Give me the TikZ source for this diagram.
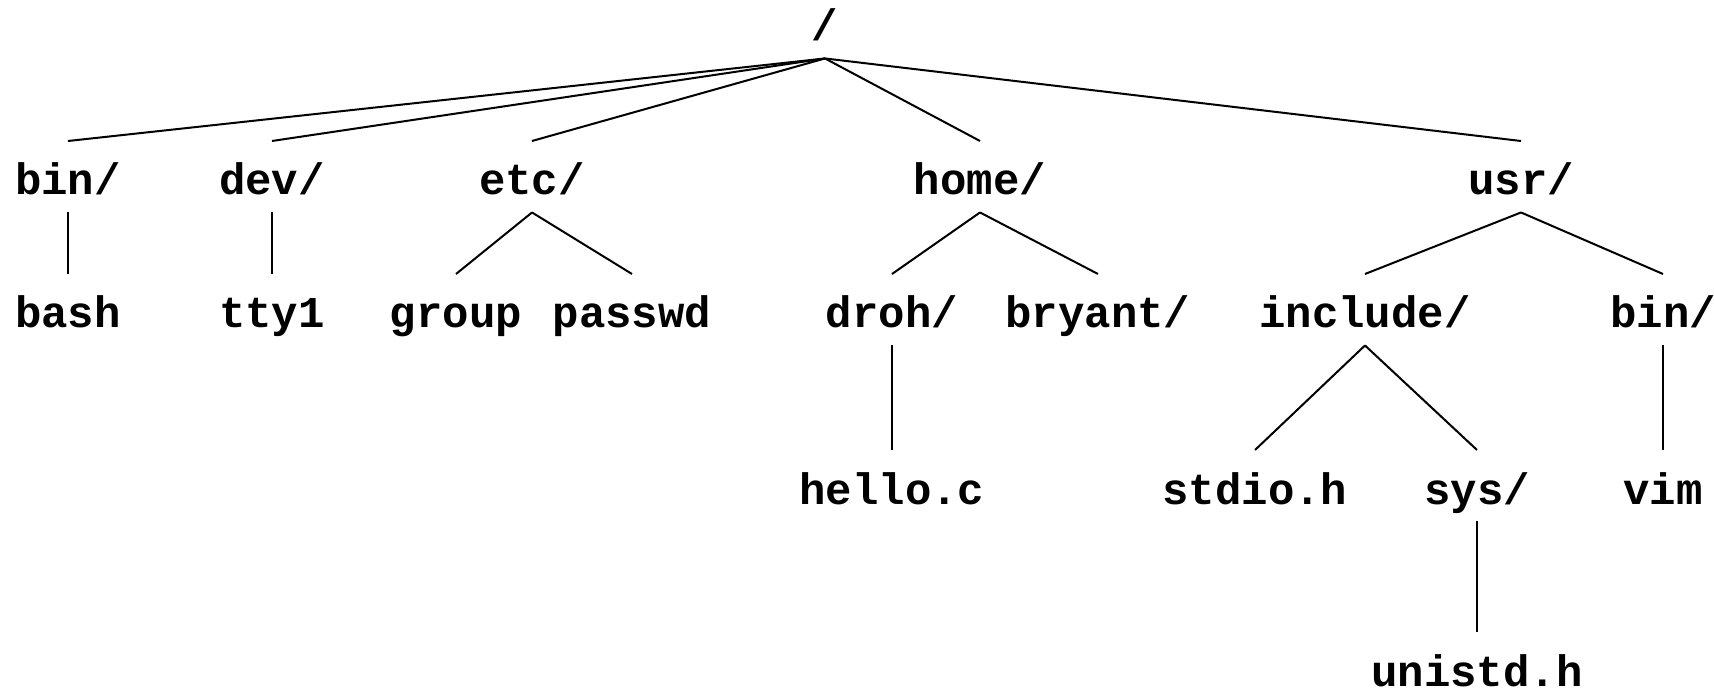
\documentclass[tikz,border=0pt]{standalone}
\usepackage{fontspec}
\setmonofont{Liberation Mono}

\tikzset{every picture/.style={line width=1.5pt}}
\tikzset{fname/.style={anchor=base, inner sep=0pt, outer sep=0pt, text height=40.5pt, text depth=13.1pt, font=\fontsize{33}{40}\selectfont\ttfamily\bfseries}}

\begin{document}
\begin{tikzpicture}[x=0.75pt,y=0.75pt,yscale=-1,xscale=1]
\useasboundingbox (0,0) rectangle (1714,691); %set diagram left start at 0, and has height of 691

% Text Node
\node [fname] (root) at (825,41) {/};
% Text Node
\node [fname] (bin) at (68,195) {bin/};
% Text Node
\node [fname] (dev) at (272,195) {dev/};
% Text Node
\node [fname] (etc) at (532,195) {etc/};
% Text Node
\node [fname] (home) at (980,195) {home/};
% Text Node
\node [fname] (usr) at (1521,195) {usr/};
% Text Node
\node [fname] (bash) at (68,328) {bash};
% Text Node
\node [fname] (tty) at (272,328) {tty1};
% Text Node
\node [fname] (group) at (456,328) {group};
% Text Node
\node [fname] (passwd) at (632,328) {passwd};
% Text Node
\node [fname] (droh) at (892,328) {droh/};
% Text Node
\node [fname] (bryant) at (1098,328) {bryant/};
% Text Node
\node [fname] (include) at (1365,328) {include/};
% Text Node
\node [fname] (usrbin) at (1663,328) {bin/};
% Text Node
\node [fname] (hello) at (892,504) {hello.c};
% Text Node
\node [fname] (stdio) at (1255,504) {stdio.h};
% Text Node
\node [fname] (sys) at (1477,504) {sys/};
% Text Node
\node [fname] (vim) at (1663,504) {vim};
% Text Node
\node [fname, text depth=0pt] (unistd) at (1477,686) {unistd.h};

%Straight Lines
\draw (root.south) -- (bin.north);
\draw (root.south) -- (dev.north);
\draw (root.south) -- (etc.north);
\draw (root.south) -- (home.north);
\draw (root.south) -- (usr.north);
%Straight Lines
\draw (bin.south) -- (bash.north);
\draw (dev.south) -- (tty.north);
\draw (etc.south) -- (group.north);
\draw (etc.south) -- (passwd.north);
\draw (home.south) -- (droh.north);
\draw (home.south) -- (bryant.north);
\draw (usr.south) -- (include.north);
\draw (usr.south) -- (usrbin.north);
%Straight Lines
\draw (droh.south) -- (hello.north);
\draw (include.south) -- (stdio.north);
\draw (include.south) -- (sys.north);
\draw (usrbin.south) -- (vim.north);
\draw (sys.south) -- (unistd.north);

\end{tikzpicture}
\end{document}
